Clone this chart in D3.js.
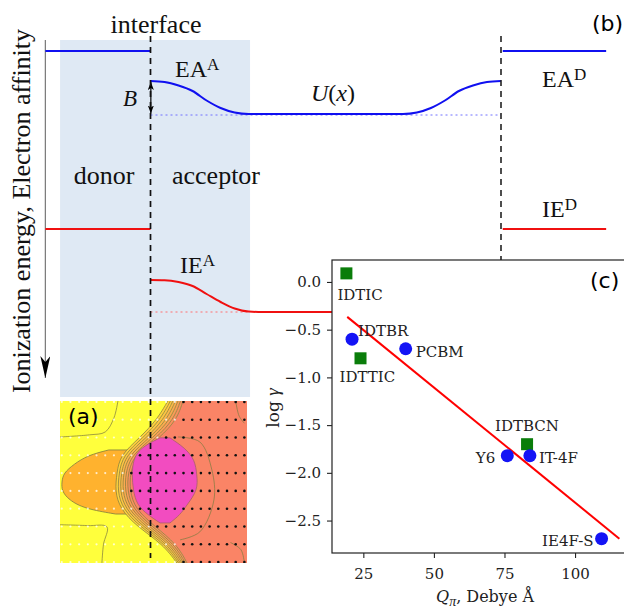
<!DOCTYPE html>
<html>
<head>
<meta charset="utf-8">
<script src="https://cdn.jsdelivr.net/npm/d3@7"></script>
<style>
  body { margin: 0; background: #fff; }
  svg { display: block; }
</style>
</head>
<body>
<div id="chart"></div>
<script>
'use strict';

// ---- (b) energy levels: x in units between the two interfaces (0 .. 10), energy grows downwards
const uX   = [0, 0.4, 0.8, 1.2, 1.6, 2.0, 2.4, 2.8, 3.2, 6.8, 7.2, 7.6, 8.0, 8.4, 8.8, 9.2, 9.6, 10];
const eaA  = [0.41, 0.42, 0.455, 0.51, 0.605, 0.68, 0.725, 0.74, 0.74, 0.74, 0.74, 0.725, 0.68, 0.605, 0.51, 0.455, 0.42, 0.41];
const ieA  = [2.40, 2.402, 2.42, 2.46, 2.54, 2.62, 2.685, 2.715, 2.72, 2.72, 2.715, 2.685, 2.62, 2.54, 2.46, 2.42, 2.402, 2.40];
const donorLeftX  = [-3.0, 0];
const donorRightX = [10.05, 13.0];
const eaDonor = 0.11, ieDonor = 1.89;
const eaBulk = 0.74, ieBulk = 2.72;
const shadeX = [-2.58, 2.84];
const shadeE = [0, 3.57];

// ---- (c) scatter
const molecules  = ['IDTIC', 'IDTBR', 'IDTTIC', 'PCBM', 'IDTBCN', 'Y6', 'IT-4F', 'IE4F-S'];
const qPi        = [19, 21, 24, 40, 83, 76, 84, 109.4];
const logGamma   = [0.09, -0.60, -0.80, -0.70, -1.70, -1.82, -1.82, -2.69];
const markerKind = ['square', 'circle', 'square', 'circle', 'square', 'circle', 'circle', 'circle'];
const fitQ   = [19.3, 115.7];
const fitLog = [-0.366, -2.69];
const yTicks = [0, -0.5, -1, -1.5, -2, -2.5];
const xTicks = [25, 50, 75, 100];

// ---- (a) occupation map, x in nm-ish units (interface at 0), rows of sites 0..9
const siteRows = [0, 1, 2, 3, 4, 5, 6, 7, 8, 9];
const siteX = [-5.1, -4.6, -4.1, -3.6, -3.1, -2.6, -2.1, -1.6, -1.1, -0.6, -0.1,
               0.4, 0.9, 1.4, 1.9, 2.4, 2.9, 3.4, 3.9, 4.4, 4.9, 5.4];
const acceptorStart = [1.87, 1.52, 0.66, -0.78, -1.35, -1.47, -1.0, -0.03, 1.52, 1.87];
const edgeRows   = [-0.05, 1, 2, 3, 4, 5, 6, 7, 8, 9.05];
const yellowEdge = [1.0, 0.37, -0.6, -1.75, -1.93, -2.04, -1.75, -0.78, 0.72, 1.52];
const salmonEdge = [1.87, 1.52, 0.55, -0.78, -1.18, -1.18, -0.89, 0.26, 1.52, 2.1];
const orangeRows  = [2.7, 3.0, 3.5, 4.0, 4.5, 5.0, 5.5, 6.0, 6.3];
const orangeLeft  = [-2.4, -3.6, -4.4, -5.0, -5.1, -5.1, -4.7, -3.8, -2.0];
const orangeRight = [-0.5, -0.5, -0.5, -0.5, -0.5, -0.5, -0.5, -0.5, -0.5];
const magentaRows  = [2.02, 2.58, 3.26, 4.1, 4.94, 5.79, 6.35, 6.8];
const magentaLeft  = [0.55, -0.6, -1.0, -1.06, -1.0, -0.78, -0.14, 0.55];
const magentaRight = [1.12, 1.98, 2.56, 2.67, 2.73, 2.1, 1.7, 1.12];
const contourLines = [
  [[-5.2, 1.97], [-3.5, 1.85], [-2.6, 1.69], [-2.1, 0.9], [-1.87, -0.05]],
  [[-5.2, 6.9], [-3.6, 6.95], [-2.5, 7.02], [-2.7, 8.0], [-2.79, 9.05]],
  [[1.58, 1.97], [2.84, 2.25], [3.53, 3.82], [3.65, 5.5], [2.84, 7.3], [1.7, 7.75]],
  [[4.9, -0.05], [5.1, 0.8], [5.4, 1.2]],
  [[4.6, 7.9], [5.2, 8.3], [5.4, 9.05]]
];

const W = 624, H = 608;
const serif = '"Liberation Serif", "Times New Roman", serif';
const serif2 = '"DejaVu Serif", serif';

const svg = d3.select('#chart').append('svg')
  .attr('width', W).attr('height', H);

const defs = svg.append('defs');
defs.append('marker')
  .attr('id', 'bigHead').attr('viewBox', '0 -5 22 10')
  .attr('refX', 22).attr('refY', 0)
  .attr('markerWidth', 22).attr('markerHeight', 10)
  .attr('markerUnits', 'userSpaceOnUse').attr('orient', 'auto')
  .append('path').attr('d', 'M0,-5L22,0L0,5L6,0Z').attr('fill', '#000');
defs.append('marker')
  .attr('id', 'smallHead').attr('viewBox', '0 -3 8 6')
  .attr('refX', 8).attr('refY', 0)
  .attr('markerWidth', 8).attr('markerHeight', 6)
  .attr('markerUnits', 'userSpaceOnUse').attr('orient', 'auto-start-reverse')
  .append('path').attr('d', 'M0,-3L8,0L0,3L2,0Z').attr('fill', '#000');

/**
 * Panel (b)
 */
const bx = d3.scaleLinear().domain([0, 10]).range([150.5, 501]);
const by = d3.scaleLinear().domain([0, 1]).range([40, 140]);
const pb = svg.append('g');

pb.append('rect')
  .attr('x', bx(shadeX[0])).attr('y', by(shadeE[0]))
  .attr('width', bx(shadeX[1]) - bx(shadeX[0]))
  .attr('height', by(shadeE[1]) - by(shadeE[0]))
  .attr('fill', '#dfe9f4');

// energy axis with arrow
pb.append('line')
  .attr('x1', bx(-3.0)).attr('x2', bx(-3.0))
  .attr('y1', by(0)).attr('y2', by(3.38))
  .attr('stroke', '#777').attr('stroke-width', 1.2)
  .attr('marker-end', 'url(#bigHead)');

const level = (xs, e, color) => pb.append('line')
  .attr('x1', bx(xs[0])).attr('x2', bx(xs[1]))
  .attr('y1', by(e)).attr('y2', by(e))
  .attr('stroke', color).attr('stroke-width', 2);
level(donorLeftX, eaDonor, '#1010f0');
level(donorRightX, eaDonor, '#1010f0');
level(donorLeftX, ieDonor, '#f01010');
level(donorRightX, ieDonor, '#f01010');

// dotted bulk references
pb.append('line')
  .attr('x1', bx(0)).attr('x2', bx(10)).attr('y1', by(eaBulk) + 1).attr('y2', by(eaBulk) + 1)
  .attr('stroke', '#7070ff').attr('stroke-width', 1).attr('stroke-dasharray', '2,3');
pb.append('line')
  .attr('x1', bx(0)).attr('x2', bx(2.8)).attr('y1', by(ieBulk)).attr('y2', by(ieBulk))
  .attr('stroke', '#ff7070').attr('stroke-width', 1).attr('stroke-dasharray', '2,3');

const profile = d3.line()
  .x(d => bx(d[0])).y(d => by(d[1]))
  .curve(d3.curveMonotoneX);
pb.append('path').datum(d3.zip(uX, eaA))
  .attr('d', profile).attr('fill', 'none')
  .attr('stroke', '#1010f0').attr('stroke-width', 2);
pb.append('path').datum(d3.zip(uX, ieA))
  .attr('d', profile).attr('fill', 'none')
  .attr('stroke', '#f01010').attr('stroke-width', 2);

// barrier B
pb.append('line')
  .attr('x1', bx(0.01)).attr('x2', bx(0.01))
  .attr('y1', by(0.42)).attr('y2', by(0.735))
  .attr('stroke', '#000').attr('stroke-width', 1.2)
  .attr('marker-start', 'url(#smallHead)').attr('marker-end', 'url(#smallHead)');

// interfaces
pb.append('line')
  .attr('x1', bx(10)).attr('x2', bx(10)).attr('y1', 36).attr('y2', 262)
  .attr('stroke', '#222').attr('stroke-width', 1.6).attr('stroke-dasharray', '6,5');

const txt = (x, y, size, anchor) => pb.append('text')
  .attr('x', x).attr('y', y)
  .attr('font-family', serif).attr('font-size', size)
  .attr('text-anchor', anchor || 'start').attr('fill', '#111');

txt(156, 33, 26, 'middle').text('interface');
txt(104, 184, 26, 'middle').text('donor');
txt(216, 184, 26, 'middle').text('acceptor');

const supLabel = (x, y, base, sup) => {
  const t = txt(x, y, 24);
  t.append('tspan').text(base);
  t.append('tspan').attr('dy', '-0.42em').attr('font-size', 17).text(sup);
};
supLabel(175, 77, 'EA', 'A');
supLabel(180, 273, 'IE', 'A');
supLabel(542, 87, 'EA', 'D');
supLabel(542, 217, 'IE', 'D');

txt(123, 106, 23).attr('font-style', 'italic').text('B');
const ux = txt(311, 101, 24);
ux.append('tspan').attr('font-style', 'italic').text('U');
ux.append('tspan').text('(');
ux.append('tspan').attr('font-style', 'italic').text('x');
ux.append('tspan').text(')');

pb.append('text')
  .attr('transform', 'translate(30,211) rotate(-90)')
  .attr('text-anchor', 'middle')
  .attr('font-family', serif).attr('font-size', 26).attr('fill', '#111')
  .text('Ionization energy, Electron affinity');

pb.append('text').attr('x', 592).attr('y', 31)
  .attr('font-family', '"DejaVu Sans", sans-serif').attr('font-size', 22)
  .text('(b)');

/**
 * Panel (a)
 */
const ax = d3.scaleLinear().domain([-5.2, 5.55]).range([60, 247]);
const ay = d3.scaleLinear().domain([-0.05, 9.05]).range([401, 563]);

defs.append('clipPath').attr('id', 'clipA')
  .append('rect').attr('x', ax(-5.2)).attr('y', ay(-0.05))
  .attr('width', ax(5.55) - ax(-5.2)).attr('height', ay(9.05) - ay(-0.05));

const pa = svg.append('g').attr('clip-path', 'url(#clipA)');
const contourColor = '#7f7c40';

pa.append('rect')
  .attr('x', ax(-5.2)).attr('y', ay(-0.05))
  .attr('width', ax(5.55) - ax(-5.2)).attr('height', ay(9.05) - ay(-0.05))
  .attr('fill', '#ffff3c');

const region = d3.area()
  .curve(d3.curveBasis)
  .y(d => ay(d.y)).x0(d => ax(d.x0)).x1(d => ax(d.x1));
const edgeLine = d3.line()
  .curve(d3.curveBasis)
  .x(d => ax(d.x)).y(d => ay(d.y));
const polyLine = d3.line()
  .curve(d3.curveCatmullRom)
  .x(d => ax(d[0])).y(d => ay(d[1]));

// orange blob in the donor
pa.append('path')
  .datum(orangeRows.map((y, i) => ({y, x0: orangeLeft[i], x1: orangeRight[i]})))
  .attr('d', region).attr('fill', '#ffb22e')
  .attr('stroke', contourColor).attr('stroke-width', 0.8);

// transition band with contour lines
const nBands = 6;
const bandColor = d3.interpolateRgb('#ffd93a', '#f98862');
const edgeAt = (k) => edgeRows.map((y, i) =>
  ({y, x: yellowEdge[i] + (salmonEdge[i] - yellowEdge[i]) * k / nBands}));
for (let k = 0; k < nBands; k++) {
  const a = edgeAt(k), b = edgeAt(k + 1);
  pa.append('path')
    .datum(a.map((d, i) => ({y: d.y, x0: d.x, x1: b[i].x})))
    .attr('d', region).attr('fill', bandColor((k + 0.5) / nBands));
}
pa.append('path')
  .datum(edgeRows.map((y, i) => ({y, x0: salmonEdge[i], x1: 5.6})))
  .attr('d', region).attr('fill', '#fa8466');
for (let k = 0; k <= nBands; k++) {
  pa.append('path').datum(edgeAt(k))
    .attr('d', edgeLine).attr('fill', 'none')
    .attr('stroke', contourColor).attr('stroke-width', 0.8).attr('opacity', 0.9);
}

// magenta blob
pa.append('path')
  .datum(magentaRows.map((y, i) => ({y, x0: magentaLeft[i], x1: magentaRight[i]})))
  .attr('d', region).attr('fill', '#f24cc0')
  .attr('stroke', '#a8606a').attr('stroke-width', 0.8);

contourLines.forEach(p => {
  pa.append('path').datum(p)
    .attr('d', polyLine).attr('fill', 'none')
    .attr('stroke', contourColor).attr('stroke-width', 0.8).attr('opacity', 0.9);
});

// lattice sites
const sites = [];
siteRows.forEach((r, i) => siteX.forEach(s => sites.push({r, s, acc: s >= acceptorStart[i]})));
pa.selectAll('circle.site').data(sites).join('circle')
  .attr('class', 'site')
  .attr('cx', d => ax(d.s)).attr('cy', d => ay(d.r))
  .attr('r', d => d.acc ? 1.3 : 1.1)
  .attr('fill', d => d.acc ? '#111' : 'rgba(255,255,255,0.75)');

pa.append('text').attr('x', 68).attr('y', 424)
  .attr('font-family', '"DejaVu Sans", sans-serif').attr('font-size', 22)
  .text('(a)');

// left interface across (b) and (a)
svg.append('line')
  .attr('x1', bx(0)).attr('x2', bx(0)).attr('y1', 36).attr('y2', 558)
  .attr('stroke', '#111').attr('stroke-width', 1.7).attr('stroke-dasharray', '6,5');

/**
 * Panel (c)
 */
const cx = d3.scaleLinear().domain([13.9, 122.3]).range([332, 638]);
const cy = d3.scaleLinear().domain([-2.84, 0.23]).range([553, 260]);
const pc = svg.append('g');

pc.append('rect')
  .attr('x', cx(13.9)).attr('y', cy(0.23))
  .attr('width', cx(122.3) - cx(13.9)).attr('height', cy(-2.84) - cy(0.23))
  .attr('fill', '#fff').attr('stroke', '#222').attr('stroke-width', 1.2);

const yAxis = pc.append('g')
  .attr('transform', `translate(${cx(13.9)},0)`)
  .call(d3.axisLeft(cy).tickValues(yTicks).tickSize(5).tickPadding(6).tickFormat(d3.format('.1f')))
  .call(g => g.select('.domain').remove());
const xAxis = pc.append('g')
  .attr('transform', `translate(0,${cy(-2.84)})`)
  .call(d3.axisBottom(cx).tickValues(xTicks).tickSize(5).tickPadding(10))
  .call(g => g.select('.domain').remove());
[yAxis, xAxis].forEach(g => {
  g.selectAll('line').attr('stroke', '#222').attr('stroke-width', 1.1);
  g.selectAll('text').attr('font-family', serif2).attr('font-size', 15).attr('fill', '#222');
});

pc.append('path').datum(d3.zip(fitQ, fitLog))
  .attr('d', d3.line().x(d => cx(d[0])).y(d => cy(d[1])))
  .attr('stroke', '#f00').attr('stroke-width', 2).attr('fill', 'none');

const pts = molecules.map((m, i) => ({m, q: qPi[i], g: logGamma[i], kind: markerKind[i]}));
pc.selectAll('rect.sq').data(pts.filter(d => d.kind === 'square')).join('rect')
  .attr('class', 'sq')
  .attr('x', d => cx(d.q) - 6).attr('y', d => cy(d.g) - 6)
  .attr('width', 12).attr('height', 12)
  .attr('fill', '#0a7d0a');
pc.selectAll('circle.pt').data(pts.filter(d => d.kind === 'circle')).join('circle')
  .attr('class', 'pt')
  .attr('cx', d => cx(d.q)).attr('cy', d => cy(d.g)).attr('r', 6.5)
  .attr('fill', '#1414f5');

const labelLayout = {
  'IDTIC':  {dx: -9,  dy: 27,  anchor: 'start'},
  'IDTBR':  {dx: 6,   dy: -3,  anchor: 'start'},
  'IDTTIC': {dx: -21, dy: 24,  anchor: 'start'},
  'PCBM':   {dx: 10,  dy: 8,   anchor: 'start'},
  'IDTBCN': {dx: 0,   dy: -13, anchor: 'middle'},
  'Y6':     {dx: -12, dy: 7,   anchor: 'end'},
  'IT-4F':  {dx: 9,   dy: 7,   anchor: 'start'},
  'IE4F-S': {dx: -8,  dy: 7,   anchor: 'end'}
};
pc.selectAll('text.lbl').data(pts).join('text')
  .attr('class', 'lbl')
  .attr('x', d => cx(d.q) + labelLayout[d.m].dx)
  .attr('y', d => cy(d.g) + labelLayout[d.m].dy)
  .attr('text-anchor', d => labelLayout[d.m].anchor)
  .attr('font-family', serif2).attr('font-size', 15).attr('fill', '#222')
  .text(d => d.m);

pc.append('text').attr('x', 590).attr('y', 288)
  .attr('font-family', '"DejaVu Sans", sans-serif').attr('font-size', 22)
  .text('(c)');

const yl = pc.append('text')
  .attr('transform', 'translate(279,408) rotate(-90)')
  .attr('text-anchor', 'middle')
  .attr('font-family', serif2).attr('font-size', 17).attr('fill', '#222');
yl.append('tspan').text('log ');
yl.append('tspan').attr('font-family', serif).attr('font-style', 'italic').attr('font-size', 19).text('γ');

const xl = pc.append('text')
  .attr('x', 485).attr('y', 602).attr('text-anchor', 'middle')
  .attr('font-family', serif2).attr('font-size', 16).attr('fill', '#222');
xl.append('tspan').attr('font-style', 'italic').text('Q');
xl.append('tspan').attr('font-family', serif).attr('font-style', 'italic')
  .attr('font-size', 14).attr('dy', 4).text('π');
xl.append('tspan').attr('dy', -4).text(', Debye Å');
</script>
</body>
</html>
